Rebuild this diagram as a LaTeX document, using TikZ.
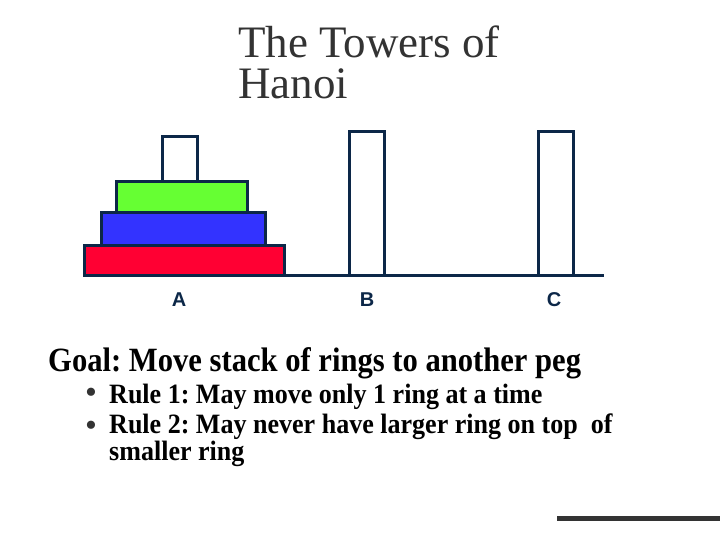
\documentclass[tikz,border=0pt]{standalone}
\usepackage{fontspec}
\setmainfont{Liberation Serif}
\newfontfamily\labelfont{Liberation Sans}
\usepackage{graphicx}
\usepackage{xcolor}
\usetikzlibrary{positioning}
\definecolor{outline}{HTML}{0C2748}
\definecolor{titlegray}{HTML}{333333}
\definecolor{ringred}{HTML}{FF0033}
\definecolor{ringblue}{HTML}{3333FF}
\definecolor{ringgreen}{HTML}{66FF33}
\frenchspacing

\begin{document}
\begin{tikzpicture}[x=1pt, y=-1pt,
    ring/.style={rectangle, draw=outline, line width=3pt, inner sep=0pt, outer sep=0pt},
    pegbox/.style={rectangle, draw=outline, line width=3pt, fill=white, inner sep=0pt, outer sep=0pt, minimum width=35pt},
    peglabel/.style={font=\labelfont\fontsize{20}{24}\selectfont\bfseries, text=outline},
    ruletext/.style={anchor=base west, inner sep=0pt, align=left, font=\fontsize{28}{24.5}\selectfont\bfseries},
    bulletdot/.style={anchor=base, inner sep=0pt, text=titlegray, font=\fontsize{34}{34}\selectfont}]
  \useasboundingbox (0,0) rectangle (720,540);

  % Title (anchored on the baseline of its last line)
  \node[anchor=base west, inner sep=0pt, align=left, text=titlegray,
    font=\fontsize{45}{41}\selectfont] (title) at (238,99) {The Towers of\\Hanoi};

  % Ground line
  \coordinate (groundend) at (604,275);

  % Rings on peg A
  \node[pegbox, minimum height=45pt] (pega) at (179.5,159.5) {};
  \node[ring, fill=ringred, minimum width=200pt, minimum height=30pt] (redring) at (184,260) {};
  \draw[outline, line width=3pt] (redring.south east) -- (groundend);
  \node[ring, fill=ringblue, minimum width=164pt, minimum height=32pt] (bluering) at (183.5,229) {};
  \node[ring, fill=ringgreen, minimum width=131pt, minimum height=31pt] (greenring) at (181.5,197.5) {};

  % Empty pegs
  \node[pegbox, minimum height=143pt] (pegb) at (366.5,203.5) {};
  \node[pegbox, minimum height=143pt] (pegc) at (555.5,203.5) {};

  % Peg labels
  \node[peglabel] (labela) at (179,300) {A};
  \node[peglabel] (labelb) at (367,300) {B};
  \node[peglabel] (labelc) at (554,300) {C};

  % Goal and rules
  \node[anchor=base west, inner sep=0pt, font=\fontsize{34}{34}\selectfont\bfseries] (goal) at (48,371)
    {\scalebox{0.9}[1]{Goal: Move stack of rings to another peg}};
  \node[bulletdot] (bulletone) at (91,403) {•};
  \node[ruletext] (ruleone) at (109,403) {\scalebox{0.93}[1]{Rule 1: May move only 1 ring at a time}};
  \node[bulletdot] (bullettwo) at (91,436) {•};
  \node[ruletext] (ruletwo) at (109,460.5)
    {\scalebox{0.93}[1]{Rule 2: May never have larger ring on top\ \ of}\\\scalebox{0.93}[1]{smaller ring}};

  % Footer bar
  \coordinate (barstart) at (557,518);
  \coordinate (barend) at (720,518);
  \draw[titlegray, line width=5pt] (barstart) -- (barend);
\end{tikzpicture}
\end{document}
